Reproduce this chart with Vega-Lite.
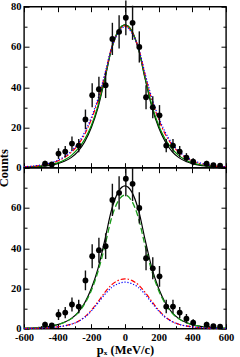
{
  "$schema": "https://vega.github.io/schema/vega-lite/v6.json",
  "background": "white",
  "padding": {"left": -4, "top": -1.3, "right": 0, "bottom": 0},
  "spacing": 0,
  "bounds": "flush",
  "config": {
    "view": {"stroke": "black", "strokeWidth": 1.4},
    "axis": {"grid": false, "domain": false, "labelFont": "Liberation Serif", "labelFontWeight": "bold", "labelFontSize": 10.5, "labelColor": "black", "tickColor": "black", "tickWidth": 1, "titleFont": "Liberation Serif", "titleFontWeight": "bold", "titleFontSize": 12.5, "titleColor": "black", "labelFlush": false, "labelOverlap": false}
  },
  "datasets": {
    "pts": [
      {"x": -475, "y": 2, "lo": 0.59, "hi": 3.41},
      {"x": -435, "y": 1.6, "lo": 0.34, "hi": 2.86},
      {"x": -395, "y": 7, "lo": 4.35, "hi": 9.65},
      {"x": -355, "y": 8, "lo": 5.17, "hi": 10.83},
      {"x": -315, "y": 12, "lo": 8.54, "hi": 15.46},
      {"x": -275, "y": 11, "lo": 7.68, "hi": 14.32},
      {"x": -235, "y": 24, "lo": 19.1, "hi": 28.9},
      {"x": -195, "y": 36, "lo": 30, "hi": 42},
      {"x": -155, "y": 39, "lo": 32.76, "hi": 45.24},
      {"x": -115, "y": 41, "lo": 34.6, "hi": 47.4},
      {"x": -75, "y": 64, "lo": 56, "hi": 72},
      {"x": -35, "y": 67.5, "lo": 59.28, "hi": 75.72},
      {"x": 5, "y": 74.5, "lo": 65.87, "hi": 83.13},
      {"x": 45, "y": 72, "lo": 63.51, "hi": 80.49},
      {"x": 85, "y": 60, "lo": 52.25, "hi": 67.75},
      {"x": 125, "y": 35, "lo": 29.08, "hi": 40.92},
      {"x": 165, "y": 30, "lo": 24.52, "hi": 35.48},
      {"x": 205, "y": 26, "lo": 20.9, "hi": 31.1},
      {"x": 245, "y": 11, "lo": 7.68, "hi": 14.32},
      {"x": 285, "y": 11, "lo": 7.68, "hi": 14.32},
      {"x": 325, "y": 8, "lo": 5.17, "hi": 10.83},
      {"x": 365, "y": 5, "lo": 2.76, "hi": 7.24},
      {"x": 405, "y": 3, "lo": 1.27, "hi": 4.73},
      {"x": 485, "y": 2, "lo": 0.59, "hi": 3.41},
      {"x": 525, "y": 1.2, "lo": 0.1, "hi": 2.3},
      {"x": 565, "y": 1, "lo": 0, "hi": 2}
    ],
    "crv": [
      {"x": -600, "tot": 0.2, "g1": 0.3, "r1": 0.4, "b1": 0.48, "g2": 0.22, "r2": 0.09, "b2": 0.1},
      {"x": -560, "tot": 0.35, "g1": 0.45, "r1": 0.62, "b1": 0.72, "g2": 0.35, "r2": 0.14, "b2": 0.15},
      {"x": -520, "tot": 0.55, "g1": 0.7, "r1": 0.95, "b1": 1.1, "g2": 0.55, "r2": 0.22, "b2": 0.24},
      {"x": -480, "tot": 0.85, "g1": 1.05, "r1": 1.45, "b1": 1.65, "g2": 0.85, "r2": 0.35, "b2": 0.38},
      {"x": -440, "tot": 1.3, "g1": 1.6, "r1": 2.2, "b1": 2.5, "g2": 1.3, "r2": 0.55, "b2": 0.58},
      {"x": -400, "tot": 2.0, "g1": 2.4, "r1": 3.3, "b1": 3.7, "g2": 2.0, "r2": 0.9, "b2": 0.9},
      {"x": -360, "tot": 3.2, "g1": 3.8, "r1": 5.1, "b1": 5.5, "g2": 3.1, "r2": 1.4, "b2": 1.4},
      {"x": -320, "tot": 5.0, "g1": 6.0, "r1": 7.6, "b1": 8.2, "g2": 4.9, "r2": 2.2, "b2": 2.2},
      {"x": -280, "tot": 8.0, "g1": 9.3, "r1": 11.3, "b1": 12.0, "g2": 7.8, "r2": 3.6, "b2": 3.5},
      {"x": -240, "tot": 12.8, "g1": 14.0, "r1": 16.5, "b1": 17.5, "g2": 12.3, "r2": 5.8, "b2": 5.6},
      {"x": -200, "tot": 20, "g1": 21, "r1": 24, "b1": 25, "g2": 19, "r2": 9.2, "b2": 8.8},
      {"x": -160, "tot": 30, "g1": 31, "r1": 33.5, "b1": 34.5, "g2": 28.5, "r2": 13.5, "b2": 12.8},
      {"x": -120, "tot": 44, "g1": 44.5, "r1": 46, "b1": 46.5, "g2": 41, "r2": 18, "b2": 17},
      {"x": -80, "tot": 59, "g1": 59, "r1": 59.5, "b1": 59.5, "g2": 55, "r2": 21.8, "b2": 20.4},
      {"x": -40, "tot": 68, "g1": 68, "r1": 67.5, "b1": 67, "g2": 63.5, "r2": 24, "b2": 22.4},
      {"x": 0, "tot": 71, "g1": 71, "r1": 70.5, "b1": 70, "g2": 66.5, "r2": 24.8, "b2": 23.1},
      {"x": 40, "tot": 68, "g1": 68, "r1": 67.5, "b1": 67, "g2": 63.5, "r2": 24, "b2": 22.4},
      {"x": 80, "tot": 59, "g1": 59, "r1": 59.5, "b1": 59.5, "g2": 55, "r2": 21.8, "b2": 20.4},
      {"x": 120, "tot": 44, "g1": 44.5, "r1": 46, "b1": 46.5, "g2": 41, "r2": 18, "b2": 17},
      {"x": 160, "tot": 30, "g1": 31, "r1": 33.5, "b1": 34.5, "g2": 28.5, "r2": 13.5, "b2": 12.8},
      {"x": 200, "tot": 20, "g1": 21, "r1": 24, "b1": 25, "g2": 19, "r2": 9.2, "b2": 8.8},
      {"x": 240, "tot": 12.8, "g1": 14.0, "r1": 16.5, "b1": 17.5, "g2": 12.3, "r2": 5.8, "b2": 5.6},
      {"x": 280, "tot": 8.0, "g1": 9.3, "r1": 11.3, "b1": 12.0, "g2": 7.8, "r2": 3.6, "b2": 3.5},
      {"x": 320, "tot": 5.0, "g1": 6.0, "r1": 7.6, "b1": 8.2, "g2": 4.9, "r2": 2.2, "b2": 2.2},
      {"x": 360, "tot": 3.2, "g1": 3.8, "r1": 5.1, "b1": 5.5, "g2": 3.1, "r2": 1.4, "b2": 1.4},
      {"x": 400, "tot": 2.0, "g1": 2.4, "r1": 3.3, "b1": 3.7, "g2": 2.0, "r2": 0.9, "b2": 0.9},
      {"x": 440, "tot": 1.3, "g1": 1.6, "r1": 2.2, "b1": 2.5, "g2": 1.3, "r2": 0.55, "b2": 0.58},
      {"x": 480, "tot": 0.85, "g1": 1.05, "r1": 1.45, "b1": 1.65, "g2": 0.85, "r2": 0.35, "b2": 0.38},
      {"x": 520, "tot": 0.55, "g1": 0.7, "r1": 0.95, "b1": 1.1, "g2": 0.55, "r2": 0.22, "b2": 0.24},
      {"x": 560, "tot": 0.35, "g1": 0.45, "r1": 0.62, "b1": 0.72, "g2": 0.35, "r2": 0.14, "b2": 0.15},
      {"x": 600, "tot": 0.2, "g1": 0.3, "r1": 0.4, "b1": 0.48, "g2": 0.22, "r2": 0.09, "b2": 0.1}
    ]
  },
  "vconcat": [
    {
      "width": 202,
      "height": 161,
      "resolve": {"axis": {"x": "independent", "y": "independent"}},
      "layer": [
        {
          "data": {"name": "crv"},
          "mark": {"type": "line", "stroke": "black", "strokeWidth": 1.2, "interpolate": "monotone"},
          "encoding": {
            "x": {"field": "x", "type": "quantitative", "scale": {"domain": [-600, 600], "nice": false},
              "axis": {"orient": "bottom", "values": [-600, -500, -400, -300, -200, -100, 0, 100, 200, 300, 400, 500, 600], "labels": false, "title": null,
                "tickSize": {"condition": {"test": "datum.value % 200 === 0", "value": -5}, "value": -3}}},
            "y": {"field": "tot", "type": "quantitative", "scale": {"domain": [0, 80], "nice": false},
              "axis": {"orient": "left", "values": [0, 10, 20, 30, 40, 50, 60, 70, 80], "labelExpr": "datum.value % 20 === 0 ? '' + datum.value : ''", "labelPadding": 8,
                "tickSize": {"condition": {"test": "datum.value % 20 === 0", "value": -5}, "value": -3},
                "title": "Counts", "titleX": -16.5, "titleY": 161, "titleAngle": -90, "titleBaseline": "alphabetic", "titleAlign": "center"}}
          }
        },
        {
          "data": {"name": "crv"},
          "mark": {"type": "line", "stroke": "#008a00", "strokeWidth": 1.2, "interpolate": "monotone"},
          "encoding": {
            "x": {"field": "x", "type": "quantitative",
              "axis": {"orient": "top", "values": [-600, -500, -400, -300, -200, -100, 0, 100, 200, 300, 400, 500, 600], "labels": false, "title": null,
                "tickSize": {"condition": {"test": "datum.value % 200 === 0", "value": -5}, "value": -3}}},
            "y": {"field": "g1", "type": "quantitative",
              "axis": {"orient": "right", "values": [0, 10, 20, 30, 40, 50, 60, 70, 80], "labels": false, "title": null,
                "tickSize": {"condition": {"test": "datum.value % 20 === 0", "value": -5}, "value": -3}}}
          }
        },
        {
          "data": {"name": "crv"},
          "mark": {"type": "line", "stroke": "#ff0000", "strokeWidth": 1.2, "strokeDash": [5, 2, 1.5, 2], "interpolate": "monotone"},
          "encoding": {
            "x": {"field": "x", "type": "quantitative", "axis": null},
            "y": {"field": "r1", "type": "quantitative", "axis": null}
          }
        },
        {
          "data": {"name": "crv"},
          "mark": {"type": "line", "stroke": "#0000ff", "strokeWidth": 1.2, "strokeDash": [1.2, 1.8], "interpolate": "monotone"},
          "encoding": {
            "x": {"field": "x", "type": "quantitative", "axis": null},
            "y": {"field": "b1", "type": "quantitative", "axis": null}
          }
        },
        {
          "data": {"name": "pts"},
          "mark": {"type": "rule", "stroke": "#111111", "strokeWidth": 1.4},
          "encoding": {
            "x": {"field": "x", "type": "quantitative", "axis": null},
            "y": {"field": "lo", "type": "quantitative", "axis": null},
            "y2": {"field": "hi"}
          }
        },
        {
          "data": {"name": "pts"},
          "mark": {"type": "circle", "fill": "black", "opacity": 1, "size": 34},
          "encoding": {
            "x": {"field": "x", "type": "quantitative", "axis": null},
            "y": {"field": "y", "type": "quantitative", "axis": null}
          }
        }
      ]
    },
    {
      "width": 202,
      "height": 161,
      "resolve": {"axis": {"x": "independent", "y": "independent"}},
      "layer": [
        {
          "data": {"name": "crv"},
          "mark": {"type": "line", "stroke": "black", "strokeWidth": 1.2, "interpolate": "monotone"},
          "encoding": {
            "x": {"field": "x", "type": "quantitative", "scale": {"domain": [-600, 600], "nice": false},
              "axis": {"orient": "bottom", "values": [-600, -500, -400, -300, -200, -100, 0, 100, 200, 300, 400, 500, 600], "labelExpr": "datum.value % 200 === 0 ? '' + datum.value : ''", "labelPadding": 9,
                "tickSize": {"condition": {"test": "datum.value % 200 === 0", "value": -5}, "value": -3},
                "title": "pₓ (MeV/c)", "titlePadding": -2}},
            "y": {"field": "tot", "type": "quantitative", "scale": {"domain": [0, 80], "nice": false},
              "axis": {"orient": "left", "values": [0, 10, 20, 30, 40, 50, 60, 70, 80], "labelExpr": "datum.value % 20 === 0 && datum.value < 80 ? '' + datum.value : ''", "labelPadding": 8,
                "tickSize": {"condition": {"test": "datum.value % 20 === 0", "value": -5}, "value": -3},
                "title": null}}
          }
        },
        {
          "data": {"name": "crv"},
          "mark": {"type": "line", "stroke": "#1a9a1a", "strokeWidth": 1.3, "strokeDash": [6, 3], "interpolate": "monotone"},
          "encoding": {
            "x": {"field": "x", "type": "quantitative",
              "axis": {"orient": "top", "values": [-600, -500, -400, -300, -200, -100, 0, 100, 200, 300, 400, 500, 600], "labels": false, "title": null,
                "tickSize": {"condition": {"test": "datum.value % 200 === 0", "value": -5}, "value": -3}}},
            "y": {"field": "g2", "type": "quantitative",
              "axis": {"orient": "right", "values": [0, 10, 20, 30, 40, 50, 60, 70, 80], "labels": false, "title": null,
                "tickSize": {"condition": {"test": "datum.value % 20 === 0", "value": -5}, "value": -3}}}
          }
        },
        {
          "data": {"name": "crv"},
          "mark": {"type": "line", "stroke": "#ff0000", "strokeWidth": 1.2, "strokeDash": [5, 2, 1.5, 2], "interpolate": "monotone"},
          "encoding": {
            "x": {"field": "x", "type": "quantitative", "axis": null},
            "y": {"field": "r2", "type": "quantitative", "axis": null}
          }
        },
        {
          "data": {"name": "crv"},
          "mark": {"type": "line", "stroke": "#0000ff", "strokeWidth": 1.2, "strokeDash": [1.2, 1.8], "interpolate": "monotone"},
          "encoding": {
            "x": {"field": "x", "type": "quantitative", "axis": null},
            "y": {"field": "b2", "type": "quantitative", "axis": null}
          }
        },
        {
          "data": {"name": "pts"},
          "mark": {"type": "rule", "stroke": "#111111", "strokeWidth": 1.4, "clip": true},
          "encoding": {
            "x": {"field": "x", "type": "quantitative", "axis": null},
            "y": {"field": "lo", "type": "quantitative", "axis": null},
            "y2": {"field": "hi"}
          }
        },
        {
          "data": {"name": "pts"},
          "mark": {"type": "circle", "fill": "black", "opacity": 1, "size": 34},
          "encoding": {
            "x": {"field": "x", "type": "quantitative", "axis": null},
            "y": {"field": "y", "type": "quantitative", "axis": null}
          }
        }
      ]
    }
  ]
}
